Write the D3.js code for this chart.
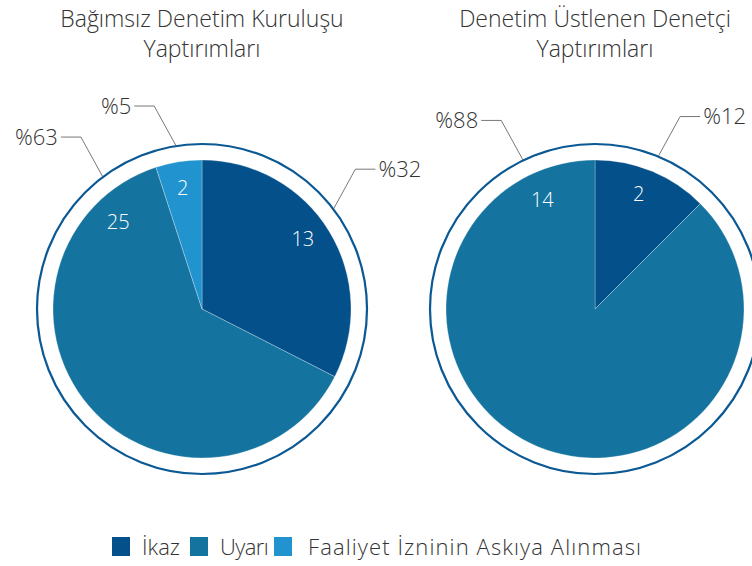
<!DOCTYPE html>
<html>
<head>
<meta charset="utf-8">
<script src="https://cdn.jsdelivr.net/npm/d3@7"></script>
<style>
  body { margin: 0; background: #fff; }
  text { font-family: "Open Sans", Lato, sans-serif; font-weight: 300; }
</style>
</head>
<body>
<div id="okvir"></div>
<script>
// data
const kategorije = ["İkaz", "Uyarı", "Faaliyet İzninin Askıya Alınması"];
const boje = ["#03508a", "#14749f", "#2193ce"];

const naslovLevo = ["Bağımsız Denetim Kuruluşu", "Yaptırımları"];
const vrednostiLevo = [13, 25, 2];
const procentiLevo = [32, 63, 5];

const naslovDesno = ["Denetim Üstlenen Denetçi", "Yaptırımları"];
const vrednostiDesno = [2, 14, 0];
const procentiDesno = [12, 88, 0];

function crtajGrafik() {
  const sirina = 752, visina = 566;
  const r = 149, rPrsten = 165;

  const okvir = d3.select("#okvir").append("svg")
    .attr("width", sirina).attr("height", visina);

  const boja = d3.scaleOrdinal().domain(kategorije).range(boje);
  const pie = d3.pie().sort(null).value(d => d.v);
  const arc = d3.arc().innerRadius(0).outerRadius(r);

  // veliki isečak ima oznaku pomerenu ka vrhu (kao u originalu)
  function ugaoOznake(a, ukupno) {
    if (a.data.v / ukupno > 0.5) return a.endAngle - 0.45;
    return (a.startAngle + a.endAngle) / 2;
  }

  function pita(cx, naslov, vrednosti, procenti, opcije) {
    const g = okvir.append("g").attr("transform", `translate(${cx},309)`);
    const podaci = kategorije.map((k, i) => ({ k, v: vrednosti[i], p: procenti[i] }))
      .filter(d => d.v > 0);
    const ukupno = d3.sum(podaci, d => d.v);
    const lukovi = pie(podaci);

    okvir.append("g").selectAll("text")
      .data(naslov).join("text")
      .attr("x", cx).attr("y", (d, i) => 27 + i * 30)
      .attr("text-anchor", "middle")
      .attr("font-size", 23).attr("fill", "#333")
      .text(d => d);

    g.append("circle").attr("r", rPrsten)
      .attr("fill", "none").attr("stroke", "#0a5894").attr("stroke-width", 2.2);

    g.selectAll("path.isecak")
      .data(lukovi).join("path")
      .attr("class", "isecak")
      .attr("d", arc)
      .attr("fill", d => boja(d.data.k))
      .attr("stroke", "rgba(255,255,255,0.35)").attr("stroke-width", 0.8);

    // vrednosti unutar isečaka
    g.selectAll("text.vrednost")
      .data(lukovi).join("text")
      .attr("class", "vrednost")
      .attr("transform", (d, i) => {
        const u = ugaoOznake(d, ukupno) + (opcije.vPomak[i] || 0);
        const rr = d.data.v / ukupno > 0.5 ? 121 : 123;
        return `translate(${Math.sin(u) * rr},${-Math.cos(u) * rr})`;
      })
      .attr("text-anchor", "middle").attr("dy", "0.36em")
      .attr("font-size", 20).attr("fill", "#fff")
      .text(d => d.data.v);

    // procenti sa linijama
    const proc = g.selectAll("g.proc").data(lukovi).join("g").attr("class", "proc");
    proc.each(function (d, i) {
      const u = ugaoOznake(d, ukupno) + (opcije.pomak[i] || 0);
      const ax = Math.sin(u) * rPrsten, ay = -Math.cos(u) * rPrsten;
      const smer = ax >= 0 ? 1 : -1;
      const ex = ax + smer * 22, ey = ay - 40;
      const hx = ex + smer * 20;
      d3.select(this).append("polyline")
        .attr("points", `${ax},${ay} ${ex},${ey} ${hx},${ey}`)
        .attr("fill", "none").attr("stroke", "#555").attr("stroke-width", 0.8);
      d3.select(this).append("text")
        .attr("x", hx + smer * 3).attr("y", ey).attr("dy", "0.36em")
        .attr("text-anchor", smer > 0 ? "start" : "end")
        .attr("font-size", 22).attr("fill", "#333")
        .text("%" + d.data.p);
    });
  }

  pita(202, naslovLevo, vrednostiLevo, procentiLevo, { pomak: [-0.1, 0.12, 0], vPomak: [-0.06, 0, 0] });
  pita(595, naslovDesno, vrednostiDesno, procentiDesno, { pomak: [0, 0], vPomak: [-0.03, 0] });

  // legenda
  const legX = [112, 190, 274];
  const tekstX = [142, 220, 308];
  const razmak = [0, -0.6, 1.1];
  const leg = okvir.append("g").selectAll("g")
    .data(kategorije).join("g");
  leg.append("rect")
    .attr("x", (d, i) => legX[i]).attr("y", 537)
    .attr("width", 18).attr("height", 19)
    .attr("fill", d => boja(d));
  leg.append("text")
    .attr("x", (d, i) => tekstX[i]).attr("y", 547).attr("dy", "0.36em")
    .attr("font-size", 22).attr("fill", "#333")
    .attr("letter-spacing", (d, i) => razmak[i])
    .text(d => d);
}

crtajGrafik();
</script>
</body>
</html>
